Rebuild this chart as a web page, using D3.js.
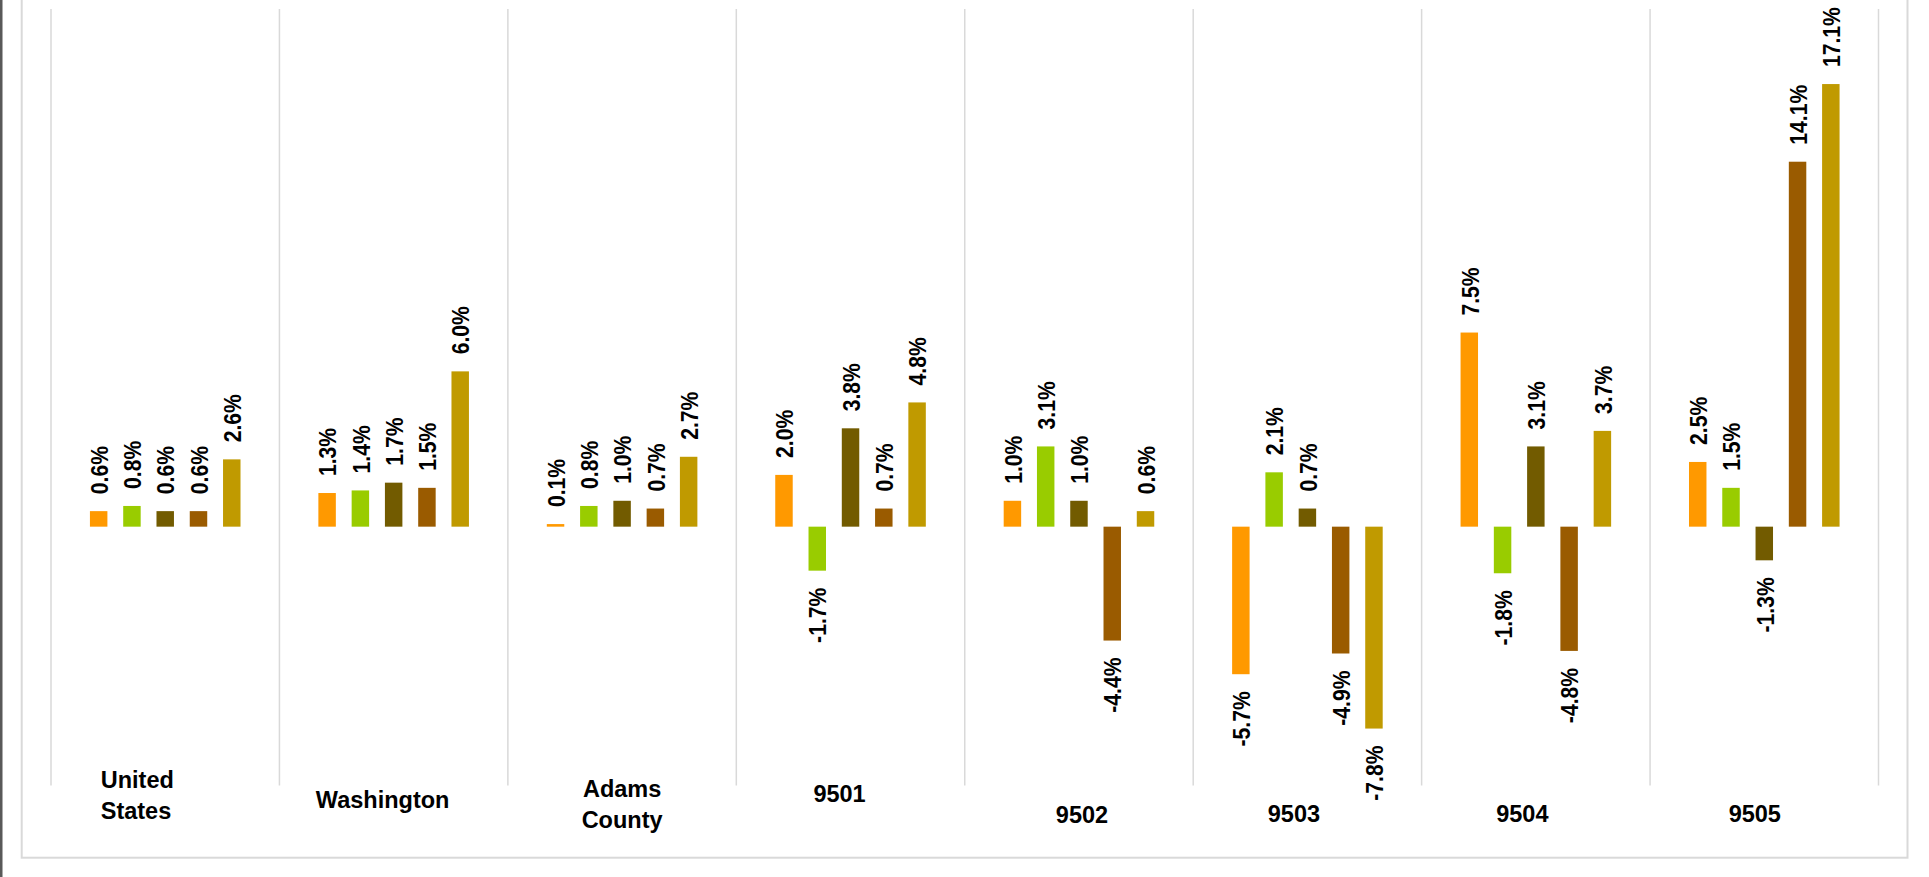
<!DOCTYPE html>
<html>
<head>
<meta charset="utf-8">
<script src="https://cdn.jsdelivr.net/npm/d3@7"></script>
<style>
    body { margin: 0; background: #fff; }
    svg { display: block; }
</style>
</head>
<body>
<script>
// categories (x axis) and the five series per category
const categories = ["United States", "Washington", "Adams County", "9501", "9502", "9503", "9504", "9505"];
const seriesNames = ["Series 1", "Series 2", "Series 3", "Series 4", "Series 5"];
const seriesColors = ["#FF9900", "#99CC00", "#725B00", "#9A5B00", "#C09A00"];

// percent change values, one array per series (same order as categories)
const series1 = [0.6, 1.3, 0.1, 2.0, 1.0, -5.7, 7.5, 2.5];
const series2 = [0.8, 1.4, 0.8, -1.7, 3.1, 2.1, -1.8, 1.5];
const series3 = [0.6, 1.7, 1.0, 3.8, 1.0, 0.7, 3.1, -1.3];
const series4 = [0.6, 1.5, 0.7, 0.7, -4.4, -4.9, -4.8, 14.1];
const series5 = [2.6, 6.0, 2.7, 4.8, 0.6, -7.8, 3.7, 17.1];

// layout nudges for the category labels (dx from band centre, baseline y, anchor)
const labelNudge = [[-64.5, 788, "start"], [-11, 808, "middle"], [0, 797, "middle"], [-11, 801.7, "middle"],
    [3, 822.7, "middle"], [-13.5, 822, "middle"], [-13.5, 822, "middle"], [-9.5, 821.7, "middle"]];

const width = 1929, height = 877;

const svg = d3.select("body")
    .append("svg")
    .attr("width", width)
    .attr("height", height);

// outer frame
svg.append("rect")
    .attr("x", 21.7)
    .attr("y", -5)
    .attr("width", 1907.5 - 21.7)
    .attr("height", 857.7 + 5)
    .attr("fill", "none")
    .attr("stroke", "#d9d9d9")
    .attr("stroke-width", 2);

svg.append("rect")
    .attr("x", 0)
    .attr("y", 0)
    .attr("width", 2.5)
    .attr("height", height)
    .attr("fill", "#595959");

// scales
const x0 = d3.scaleBand()
    .domain(categories)
    .range([51, 1878.5])
    .padding(0);

const x1 = d3.scaleBand()
    .domain(seriesNames)
    .range([0, x0.bandwidth()])
    .paddingInner(0.475)
    .paddingOuter(1.17);

const y = d3.scaleLinear()
    .domain([-10, 20])
    .range([785.5, 9]);

// vertical separators between categories
const bounds = categories.map(c => x0(c)).concat([x0.range()[1]]);
svg.selectAll(".divider")
    .data(bounds)
    .enter()
    .append("line")
    .attr("class", "divider")
    .attr("x1", d => d)
    .attr("x2", d => d)
    .attr("y1", y(20))
    .attr("y2", y(-10))
    .attr("stroke", "#d9d9d9")
    .attr("stroke-width", 1.5);

// build rows for drawing
const allSeries = [series1, series2, series3, series4, series5];
const rows = [];
categories.forEach((c, i) => {
    seriesNames.forEach((s, j) => {
        rows.push({cat: c, key: s, color: seriesColors[j], value: allSeries[j][i]});
    });
});

// bars
svg.selectAll(".bar")
    .data(rows)
    .enter()
    .append("rect")
    .attr("class", "bar")
    .attr("x", d => x0(d.cat) + x1(d.key))
    .attr("y", d => d.value >= 0 ? y(d.value) : y(0))
    .attr("width", x1.bandwidth())
    .attr("height", d => Math.abs(y(d.value) - y(0)))
    .attr("fill", d => d.color);

// value labels, rotated (plain hyphen for minus like the original)
svg.selectAll(".val")
    .data(rows)
    .enter()
    .append("text")
    .attr("class", "val")
    .attr("transform", d => {
        const cx = x0(d.cat) + x1(d.key) + x1.bandwidth() / 2 + 1;
        const cy = d.value >= 0 ? y(d.value) - 17 : y(d.value) + 17;
        return `translate(${cx},${cy}) rotate(-90) scale(0.9,1)`;
    })
    .attr("dy", "0.35em")
    .attr("text-anchor", d => d.value >= 0 ? "start" : "end")
    .style("font-family", "'Liberation Sans', Arial, sans-serif")
    .style("font-weight", "bold")
    .style("font-size", "23.5px")
    .attr("fill", "#000")
    .text(d => d.value.toFixed(1) + "%");

// category labels
const catLabels = svg.selectAll(".cat")
    .data(categories)
    .enter()
    .append("text")
    .attr("class", "cat")
    .attr("y", (d, i) => labelNudge[i][1])
    .attr("text-anchor", (d, i) => labelNudge[i][2])
    .style("font-family", "'Liberation Sans', Arial, sans-serif")
    .style("font-weight", "bold")
    .style("font-size", "23.5px")
    .attr("fill", "#000");

catLabels.each(function(d, i) {
    const words = d.split(" ");
    const t = d3.select(this);
    words.forEach((w, k) => {
        t.append("tspan")
            .attr("x", x0(d) + x0.bandwidth() / 2 + labelNudge[i][0])
            .attr("dy", k === 0 ? 0 : 30.5)
            .text(w);
    });
});
</script>
</body>
</html>
